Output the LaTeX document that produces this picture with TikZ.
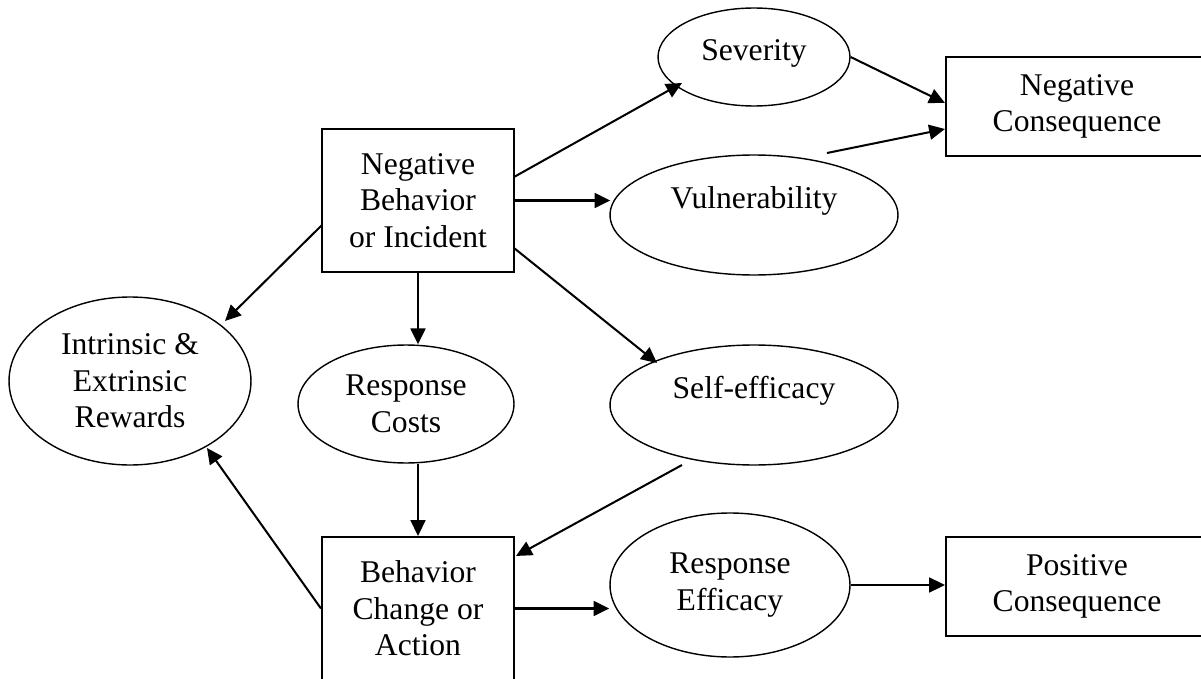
\documentclass[tikz,border=0pt]{standalone}
\usepackage{fontspec}
\setmainfont{Liberation Serif}
\usetikzlibrary{shapes.geometric,arrows.meta,calc}
\begin{document}
\begin{tikzpicture}[x=0.02cm,y=-0.02cm,
  every node/.style={font=\fontsize{18}{20.8}\selectfont, align=center, inner sep=0pt},
  oval/.style={ellipse, draw, line width=0.8pt},
  panel/.style={rectangle, draw, line width=1.2pt},
  link/.style={line width=1.15pt, -{Triangle[length=9pt,width=8.5pt]}}]
\useasboundingbox (0,0) rectangle (1201,679);
\clip (0,0) rectangle (1201,679);

% boxes
\node[panel, minimum width=3.84cm, minimum height=2.86cm] (neg) at (418,200.5)
  {Negative\\Behavior\\or Incident};
\node[panel, minimum width=3.84cm, minimum height=2.86cm] (beh) at (418,608.5)
  {Behavior\\Change or\\Action};
\node[panel, minimum width=5.24cm, minimum height=1.98cm] (ncons) at (1077,106.5)
  {Negative\\Consequence};
\node[panel, minimum width=5.24cm, minimum height=1.98cm] (pcons) at (1077,586.5)
  {Positive\\Consequence};

% ellipses
\node[oval, minimum width=3.84cm, minimum height=1.96cm, text depth=8pt] (sev) at (754,57) {Severity};
\node[oval, minimum width=5.76cm, minimum height=2.4cm, text depth=20pt] (vul) at (754,215) {Vulnerability};
\node[oval, minimum width=5.76cm, minimum height=2.4cm, text depth=20pt] (self) at (754,405) {Self-efficacy};
\node[oval, minimum width=4.84cm, minimum height=3.36cm] (rew) at (130,381) {Intrinsic \&\\Extrinsic\\Rewards};
\node[oval, minimum width=4.32cm, minimum height=2.36cm] (cost) at (406,404) {Response\\Costs};
\node[oval, minimum width=4.8cm, minimum height=2.88cm] (reff) at (730,585) {Response\\Efficacy};

% connectors
\draw[link] ($(neg.center)+(96,-23.5)$) -- ($(sev.center)+(-72,26)$);
\draw[link] (neg.east) -- ($(vul.west |- neg.east)+(1,0)$);
\draw[link] ($(neg.center)+(96,47.5)$) -- ($(self.center)+(-97,-42)$);
\draw[link] ($(neg.center)+(-96,24.5)$) -- ($(rew.center)+(95,-60)$);
\draw[link] (neg.south) -- (neg.south |- cost.north);
\draw[link] (beh.north |- cost.south) -- (beh.north);
\draw[link] ($(self.center)+(-72,60)$) -- ($(beh.north east)+(1,20)$);
\draw[link] (beh.west) -- ($(rew.center)+(77,67)$);
\draw[link] (beh.east) -- ($(reff.west |- beh.east)$);
\draw[link] (reff.east) -- (reff.east -| pcons.west);
\draw[link] (sev.east) -- ($(ncons.west)+(0,-3.5)$);
\draw[link] ($(vul.center)+(73,-62)$) -- ($(ncons.west)+(0,22.5)$);
\end{tikzpicture}
\end{document}
